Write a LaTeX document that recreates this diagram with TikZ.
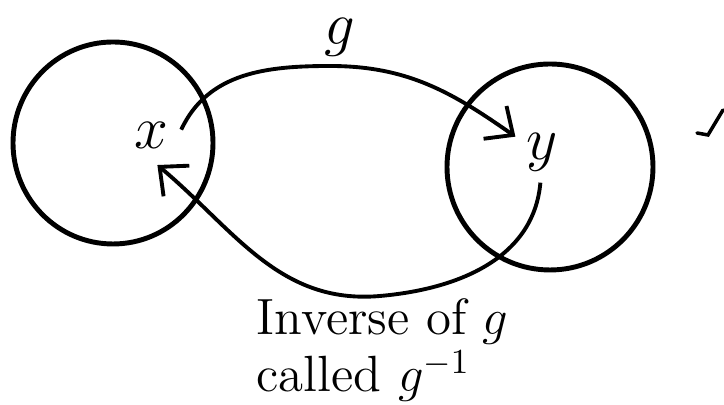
\documentclass[tikz,border=0pt]{standalone}
\usepackage{tikz}
\usetikzlibrary{arrows.meta}

\begin{document}
\begin{tikzpicture}[
          setline/.style={line width=1.4pt, black},
          mapline/.style={line width=1.1pt, black, -{Straight Barb[length=2.2mm, width=4mm]}},
          elem/.style={circle, minimum size=0.6cm, inner sep=0pt, font=\fontsize{17}{20}\selectfont},
          label/.style={inner sep=0pt, font=\fontsize{16}{18}\selectfont}
        ]
          \useasboundingbox (0,0) rectangle (7.24,4.05);

          % Domain and codomain
          \draw[setline] (1.13,2.62) ellipse (1.00 and 1.01);
          \draw[setline] (5.50,2.38) ellipse (1.03 and 1.03);

          \node[elem] (x) at (1.51,2.70) {$x$};
          \node[elem] (y) at (5.42,2.53) {$y$};

          % Forward map g and its inverse
          \draw[mapline] (x.10) to[out=65, in=180] (3.30,3.39) to[out=0, in=145] (y.150);
          \node[label] (g) at (3.40,3.68) {$g$};
          \draw[mapline] (y.-93) to[out=-95, in=5] (3.80,1.09) to[out=185, in=-40] (x.-78);

          \node[label, align=left, anchor=west, font=\fontsize{14.5}{16.5}\selectfont] (inv) at (2.56,0.55) {
            Inverse of $g$ \\
            called $g^{-1}$
          };

          % Stray pen mark
          \draw[line width=1pt, line cap=round] (6.97,2.72) -- (7.08,2.70) -- (7.23,2.95);
        \end{tikzpicture}
\end{document}
